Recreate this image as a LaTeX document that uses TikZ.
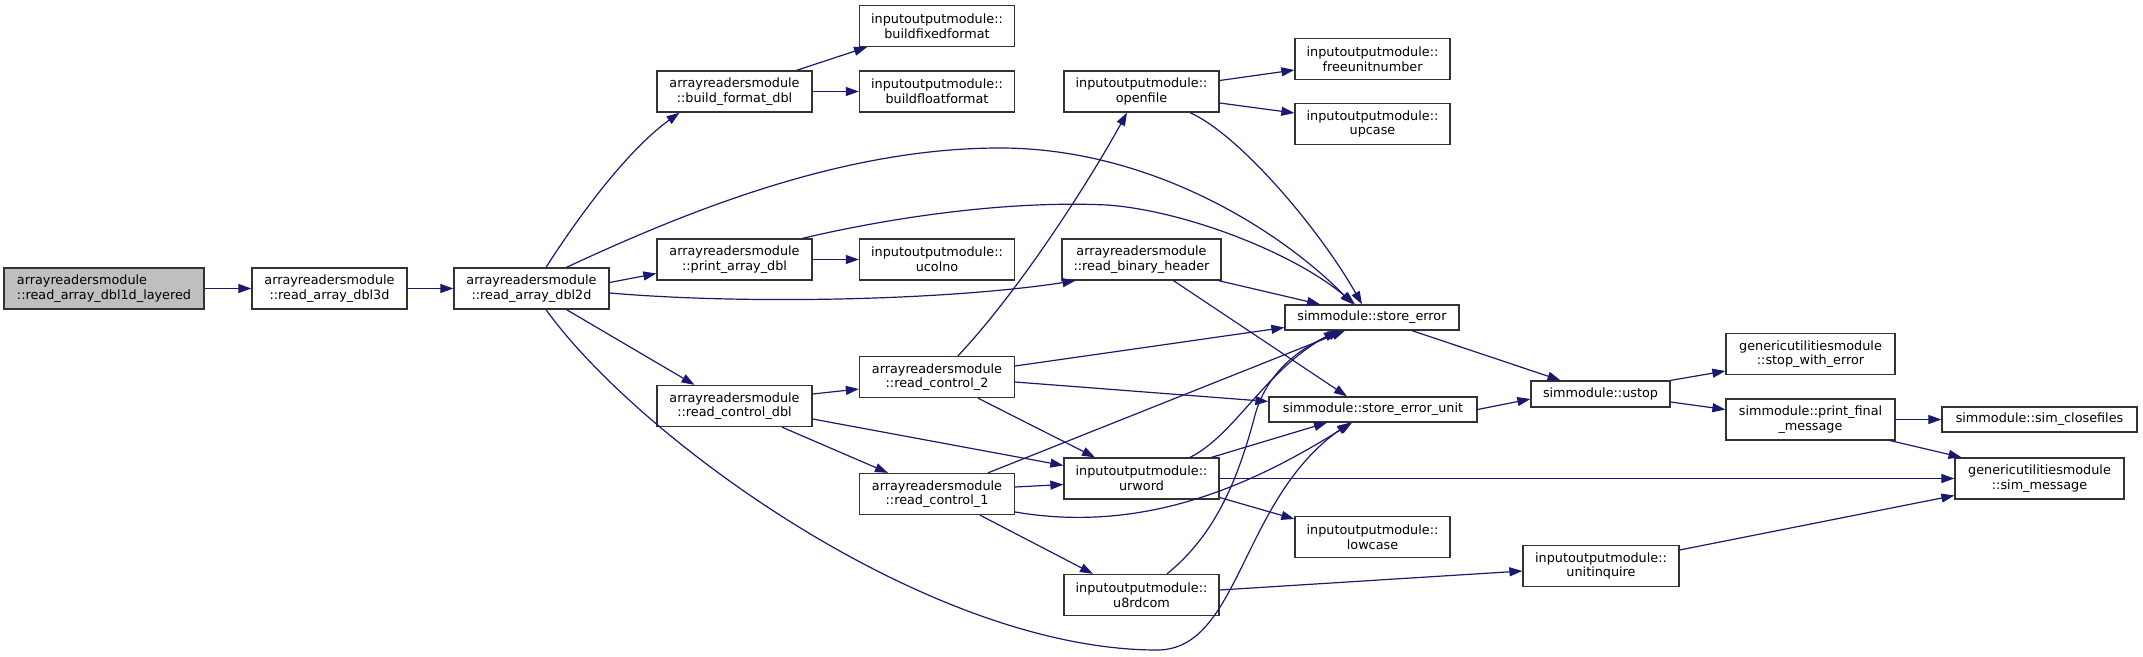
\documentclass[tikz,border=0pt]{standalone}
\usepackage{fontspec}
\setmainfont{DejaVu Sans}
\usetikzlibrary{arrows.meta}
\definecolor{edgec}{HTML}{191970}
\definecolor{nodeb}{HTML}{333333}
\definecolor{rootf}{HTML}{BFBFBF}
\begin{document}
\begin{tikzpicture}[x=1pt,y=-1pt,
  box/.style={draw=nodeb, line width=1.3pt, fill=white, inner sep=0pt, align=center,
    font=\fontsize{12.8}{14.6}\selectfont},
  wbox/.style={box, minimum width=155pt, minimum height=41pt},
  sbox/.style={box, minimum height=25pt},
  edge/.style={draw=edgec, line width=1.2pt, -{Triangle[length=13pt,width=9pt]}},
]
\useasboundingbox (0,0) rectangle (2143,656);

% nodes
\node[wbox, fill=rootf, minimum width=200pt, align=left] (n1) at (104,288.5) {arrayreadersmodule\\::read\_array\_dbl1d\_layered};
\node[wbox] (n2) at (329.5,288.5) {arrayreadersmodule\\::read\_array\_dbl3d};
\node[wbox] (n3) at (531.5,288.5) {arrayreadersmodule\\::read\_array\_dbl2d};
\node[wbox] (n4) at (734.5,91.5) {arrayreadersmodule\\::build\_format\_dbl};
\node[wbox] (n5) at (937,26) {inputoutputmodule::\\buildfixedformat};
\node[wbox] (n6) at (937,91.5) {inputoutputmodule::\\buildfloatformat};
\node[wbox] (n7) at (734.5,259.5) {arrayreadersmodule\\::print\_array\_dbl};
\node[wbox] (n8) at (937,259.5) {inputoutputmodule::\\ucolno};
\node[wbox] (n9) at (734.5,406) {arrayreadersmodule\\::read\_control\_dbl};
\node[wbox] (n10) at (937,377) {arrayreadersmodule\\::read\_control\_2};
\node[wbox] (n11) at (937,494) {arrayreadersmodule\\::read\_control\_1};
\node[wbox] (n12) at (1141.5,91.5) {inputoutputmodule::\\openfile};
\node[wbox, minimum width=159pt] (n13) at (1141.5,259.5) {arrayreadersmodule\\::read\_binary\_header};
\node[wbox] (n14) at (1141.5,478.5) {inputoutputmodule::\\urword};
\node[wbox] (n15) at (1141.5,595) {inputoutputmodule::\\u8rdcom};
\node[wbox] (n16) at (1372.5,59) {inputoutputmodule::\\freeunitnumber};
\node[wbox] (n17) at (1372.5,124) {inputoutputmodule::\\upcase};
\node[sbox, minimum width=174pt] (n18) at (1372,317.5) {simmodule::store\_error};
\node[sbox, minimum width=208pt] (n19) at (1373,409.5) {simmodule::store\_error\_unit};
\node[wbox] (n20) at (1372.5,537) {inputoutputmodule::\\lowcase};
\node[sbox, minimum width=139pt, minimum height=26pt] (n21) at (1600.5,394) {simmodule::ustop};
\node[wbox, minimum width=156pt] (n22) at (1601,566) {inputoutputmodule::\\unitinquire};
\node[wbox, minimum width=169pt] (n23) at (1810.5,354) {genericutilitiesmodule\\::stop\_with\_error};
\node[wbox, minimum width=169pt] (n24) at (1810.5,419.5) {simmodule::print\_final\\\_message};
\node[sbox, minimum width=195pt] (n25) at (2039.5,419.5) {simmodule::sim\_closefiles};
\node[wbox, minimum width=169pt] (n26) at (2039.5,478.5) {genericutilitiesmodule\\::sim\_message};

% edges
\draw[edge] (n1.east) -- (n2.west);
\draw[edge] (n2.east) -- (n3.west);
\draw[edge] ([xshift=14.5pt]n3.north) .. controls (575,222) and (625,152) .. ([xshift=-55pt]n4.south);
\draw[edge] ([xshift=35pt]n3.north) .. controls (700,205) and (850,148) .. (1000,148)
   .. controls (1150,148) and (1280,230) .. ([xshift=-19pt]n18.north);
\draw[edge] ([yshift=6pt]n3.east) -- ([yshift=-14pt]n7.west);
\draw[edge] ([yshift=-4.5pt]n3.east) .. controls (750,305) and (950,300) .. ([xshift=-66pt]n13.south);
\draw[edge] ([xshift=35pt]n3.south) -- ([xshift=-40pt]n9.north);
\draw[edge] ([xshift=14.5pt]n3.south) .. controls (640,440) and (930,650) .. (1157,650)
   .. controls (1240,650) and (1240,500) .. ([xshift=-23pt]n19.south);
\draw[edge] ([xshift=62pt]n4.north) -- ([xshift=-70pt]n5.south);
\draw[edge] (n4.east) -- (n6.west);
\draw[edge] (n7.east) -- (n8.west);
\draw[edge] ([xshift=68pt]n7.north) .. controls (880,220) and (1000,200) .. (1107,205)
   .. controls (1180,210) and (1290,250) .. ([xshift=-17pt]n18.north);
\draw[edge] ([yshift=12pt]n9.east) -- ([yshift=-12pt]n10.west);
\draw[edge] ([xshift=47.5pt]n9.south) -- ([xshift=-49pt]n11.north);
\draw[edge] ([yshift=-13pt]n9.east) -- ([yshift=13pt]n14.west);
\draw[edge] ([xshift=21pt]n10.north) .. controls (1020,290) and (1090,180) .. ([xshift=-14.5pt]n12.south);
\draw[edge] ([yshift=11pt]n10.east) -- ([yshift=-10pt]n18.west);
\draw[edge] ([yshift=-5pt]n10.east) -- ([yshift=8pt]n19.west);
\draw[edge] ([xshift=41pt]n10.south) -- ([xshift=-46.5pt]n14.north);
\draw[edge] ([yshift=7pt]n11.east) -- ([yshift=-6pt]n14.west);
\draw[edge] ([xshift=51pt]n11.north) -- ([xshift=-27pt]n18.south);
\draw[edge] ([yshift=-18pt]n11.east) .. controls (1150,535) and (1260,480) .. ([xshift=-21pt]n19.south);
\draw[edge] ([xshift=43pt]n11.south) -- ([xshift=-48.5pt]n15.north);
\draw[edge] ([yshift=11pt]n12.east) -- ([yshift=-11pt]n16.west);
\draw[edge] ([yshift=-11.5pt]n12.east) -- ([yshift=11pt]n17.west);
\draw[edge] ([xshift=48.5pt]n12.south) .. controls (1240,135) and (1320,230) .. ([xshift=-10pt]n18.north);
\draw[edge] ([xshift=-3pt]n13.south east) -- ([xshift=-52pt]n18.north);
\draw[edge] ([xshift=32pt]n13.south) -- ([xshift=-26pt]n19.north);
\draw[edge] ([xshift=48.5pt]n14.north) .. controls (1235,435) and (1265,370) .. ([xshift=-35pt]n18.south);
\draw[edge] ([xshift=70pt]n14.north) -- ([xshift=-46pt]n19.south);
\draw[edge] ([yshift=-19pt]n14.east) -- ([yshift=18pt]n20.west);
\draw[edge] (n14.east) -- (n26.west);
\draw[edge] ([xshift=25.5pt]n15.north) .. controls (1215,535) and (1238,480) .. (1255,415)
   .. controls (1267,372) and (1300,348) .. ([xshift=-31pt]n18.south);
\draw[edge] ([yshift=5pt]n15.east) -- ([yshift=-5pt]n22.west);
\draw[edge] ([xshift=40pt]n18.south) -- ([xshift=-40pt]n21.north);
\draw[edge] (n19.east) -- ([yshift=-5pt]n21.west);
\draw[edge] (n21.north east) -- ([yshift=-17pt]n23.west);
\draw[edge] ([yshift=-8pt]n21.east) -- ([yshift=10pt]n24.west);
\draw[edge] (n24.east) -- (n25.west);
\draw[edge] ([xshift=80pt]n24.south) -- ([xshift=-78pt]n26.north);
\draw[edge] ([yshift=16pt]n22.east) -- ([yshift=-17pt]n26.west);
\end{tikzpicture}
\end{document}
